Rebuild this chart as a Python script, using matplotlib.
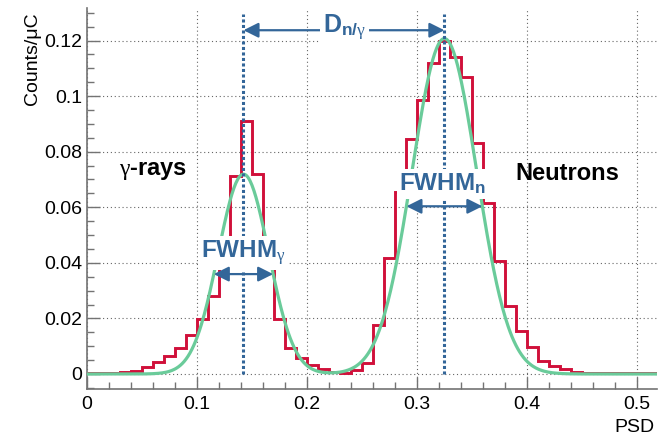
import numpy as np
import matplotlib
matplotlib.use("Agg")
from matplotlib import pyplot as plt
from matplotlib.ticker import MultipleLocator, FuncFormatter

plt.rcParams['font.family'] = ['Liberation Sans', 'DejaVu Sans']
plt.rcParams['mathtext.fontset'] = 'custom'
plt.rcParams['mathtext.rm'] = 'Liberation Sans'
plt.rcParams['mathtext.it'] = 'Liberation Serif'
plt.rcParams['mathtext.bf'] = 'Liberation Sans:bold'

# PSD histogram, 0.01 wide bins from 0 to 0.52 (Counts/uC)
bin_edges = np.round(np.arange(0, 0.5201, 0.01), 2)
counts = [0.0003, 0.0003, 0.0004, 0.0008, 0.0012, 0.0025, 0.0044, 0.0065, 0.0092, 0.0139,
          0.0198, 0.0281, 0.0440, 0.0712, 0.0911, 0.0719, 0.0440, 0.0198, 0.0092, 0.0056,
          0.0032, 0.0018, 0.0006, 0.0005, 0.0014, 0.0038, 0.0176, 0.0416, 0.0656, 0.0845,
          0.0986, 0.1120, 0.1199, 0.1139, 0.1070, 0.0833, 0.0614, 0.0405, 0.0246, 0.0153,
          0.0098, 0.0046, 0.0030, 0.0017, 0.0008, 0.0005, 0.0004, 0.0004, 0.0003, 0.0003,
          0.0003, 0.0003]

# gaussian fits: amplitude, mean, sigma
gamma_fit = [0.0719, 0.1424, 0.0229]
neutron_fit = [0.1207, 0.3249, 0.0293]

blue = "#336699"
red = "#d0103a"
green = "#6acb9a"


def gauss(x, p):
    return p[0] * np.exp(-0.5 * ((x - p[1]) / p[2]) ** 2)


fig = plt.figure(figsize=(6.71, 4.41), dpi=100)
ax = fig.add_axes([86.7 / 671, 1 - 389 / 441, (657 - 86.7) / 671, (389 - 8) / 441])

ax.stairs(counts, bin_edges, baseline=None, color=red, lw=2.1, zorder=3)

xs = np.linspace(0, 0.52, 600)
ax.plot(xs, gauss(xs, gamma_fit) + gauss(xs, neutron_fit), color=green, lw=2.3, zorder=4)

# peak positions
for p in [gamma_fit, neutron_fit]:
    ax.plot([p[1], p[1]], [0, 0.1295], color=blue, lw=2.2, linestyle=(0, (1.0, 0.8)), zorder=4)

# FWHM arrows
arrow = dict(arrowstyle="<|-|>,head_length=0.6,head_width=0.3", color=blue, lw=1.6,
             mutation_scale=15, shrinkA=0, shrinkB=0)
for p in [gamma_fit, neutron_fit]:
    half = 1.1774 * p[2]
    ax.annotate("", xy=(p[1] - half, p[0] / 2), xytext=(p[1] + half, p[0] / 2),
                arrowprops=arrow, zorder=7)
ax.annotate("", xy=(gamma_fit[1], 0.1237), xytext=(neutron_fit[1], 0.1237),
            arrowprops=arrow, zorder=5)

box = dict(facecolor="white", edgecolor="none", pad=2)
ax.text(0.1424, 0.0436, r"FWHM$_{\gamma}$", color=blue, fontsize=17.5, fontweight="bold",
        ha="center", va="center", bbox=box, zorder=6)
ax.text(0.3235, 0.0683, r"FWHM$_{\mathbf{n}}$", color=blue, fontsize=17.5, fontweight="bold",
        ha="center", va="center", bbox=box, zorder=6)
ax.text(0.2339, 0.1224, r"D$_{\mathbf{n/}\gamma}$", color=blue, fontsize=18, fontweight="bold",
        ha="center", va="baseline", bbox=box, zorder=6)

ax.text(0.0603, 0.0734, r"$\gamma$-rays", fontsize=17, fontweight="bold", ha="center", va="center")
ax.text(0.4362, 0.0723, "Neutrons", fontsize=17, fontweight="bold", ha="center", va="center")

ax.set_xlim(0, 0.518)
ax.set_ylim(-0.0054, 0.1317)

ax.xaxis.set_major_locator(MultipleLocator(0.1))
ax.xaxis.set_minor_locator(MultipleLocator(0.02))
ax.yaxis.set_major_locator(MultipleLocator(0.02))
ax.yaxis.set_minor_locator(MultipleLocator(0.005))
fmt = FuncFormatter(lambda v, pos: "%g" % round(v, 3))
ax.xaxis.set_major_formatter(fmt)
ax.yaxis.set_major_formatter(fmt)

ax.grid(True, which="major", color="0.4", lw=0.8, linestyle=(0, (1, 2.5)), zorder=1)
ax.set_axisbelow(True)
for s in ["top", "right"]:
    ax.spines[s].set_visible(False)
for s in ["left", "bottom"]:
    ax.spines[s].set_color("0.45")
    ax.spines[s].set_linewidth(1.2)
ax.tick_params(which="both", direction="in", color="0.45", width=1.0, labelsize=14)
ax.tick_params(which="major", length=9)
ax.tick_params(which="minor", length=5)
ax.tick_params(axis="x", pad=5)
ax.tick_params(axis="y", pad=3)

fig.text(33 / 671, 1 - 12 / 441, "Counts/μC", rotation=90, ha="center", va="top", fontsize=14)
fig.text(655 / 671, 1 - 427 / 441, "PSD", ha="right", va="center", fontsize=14)

plt.savefig("out.png", dpi=100)
